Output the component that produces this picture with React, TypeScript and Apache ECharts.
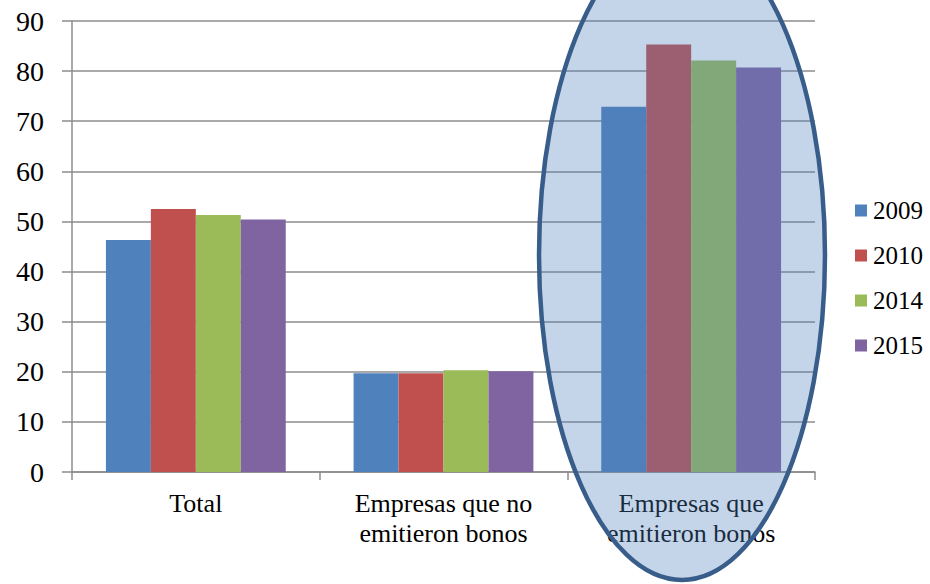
import React, { useEffect, useRef } from "react";
import * as echarts from "echarts";

const categories = ["Total", "Empresas que no\nemitieron bonos", "Empresas que\nemitieron bonos"];
const years = ["2009", "2010", "2014", "2015"];
const values2009 = [46.3, 19.7, 72.9];
const values2010 = [52.5, 19.7, 85.3];
const values2014 = [51.3, 20.3, 82.1];
const values2015 = [50.4, 20.1, 80.7];
const yearColors = ["#4f81bd", "#c0504d", "#9bbb59", "#8064a2"];
const yTicks = [0, 10, 20, 30, 40, 50, 60, 70, 80, 90];

const FONT = "'Liberation Serif', 'Times New Roman', serif";

export default function App() {
  const ref = useRef<HTMLDivElement>(null);

  useEffect(() => {
    if (!ref.current) return;
    const chart = echarts.init(ref.current, undefined, { renderer: "svg" });
    const seriesValues = [values2009, values2010, values2014, values2015];

    chart.setOption({
      animation: false,
      backgroundColor: "#ffffff",
      textStyle: { fontFamily: FONT },
      grid: { left: 72, right: 115, top: 21, bottom: 112, containLabel: false },
      legend: {
        orient: "vertical",
        left: 850,
        top: 193,
        icon: "rect",
        itemWidth: 12,
        itemHeight: 12,
        itemGap: 20,
        data: years,
        textStyle: { fontFamily: FONT, fontSize: 25, color: "#000", lineHeight: 25, padding: [0, 0, 0, 1] },
      },
      xAxis: {
        type: "category",
        data: categories,
        axisLine: { show: true, lineStyle: { color: "#8c8c8c", width: 1.5 } },
        axisTick: { show: true, length: 8, alignWithLabel: false, lineStyle: { color: "#8c8c8c", width: 1.5 } },
        axisLabel: {
          fontFamily: FONT,
          fontSize: 26,
          lineHeight: 30,
          color: "#000",
          margin: 16,
          interval: 0,
        },
      },
      yAxis: {
        type: "value",
        min: 0,
        max: 90,
        interval: 10,
        axisLine: { show: true, lineStyle: { color: "#8c8c8c", width: 1.5 } },
        axisTick: { show: true, inside: false, length: 10, lineStyle: { color: "#8c8c8c", width: 1.5 } },
        splitLine: { show: true, lineStyle: { color: "#8c8c8c", width: 1.5 } },
        axisLabel: {
          fontFamily: FONT,
          fontSize: 28,
          color: "#000",
          margin: 28,
          formatter: (v: number) => (yTicks.includes(v) ? String(v) : ""),
        },
      },
      series: years.map((name, i) => ({
        name,
        type: "bar",
        data: seriesValues[i],
        barGap: "0%",
        barCategoryGap: "27.4%",
        itemStyle: { color: yearColors[i] },
      })),
      graphic: [
        {
          // highlight around the bond-issuing companies group
          type: "ellipse",
          z: 100,
          silent: true,
          shape: { cx: 682, cy: 255, rx: 143, ry: 325 },
          style: {
            fill: "rgba(79,129,189,0.33)",
            stroke: "#385d8a",
            lineWidth: 4.5,
          },
        },
      ],
    });

    return () => chart.dispose();
  }, []);

  return (
    <div
      ref={ref}
      style={{ position: "fixed", left: 0, top: 0, width: 930, height: 584, background: "#fff" }}
    />
  );
}
